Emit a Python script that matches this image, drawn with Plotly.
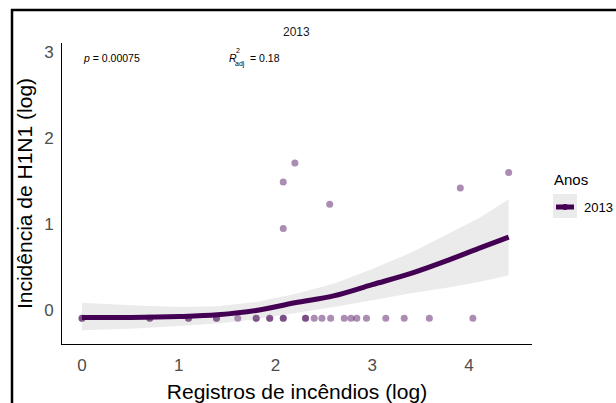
import plotly.graph_objects as go

# ---- data ----
point_x = [0.00, 0.00, 0.70, 0.70, 1.10, 1.10, 1.39, 1.39, 1.61, 1.80, 1.80,
           1.94, 1.94, 2.08, 2.08, 2.31, 2.31, 2.40, 2.48, 2.57, 2.71, 2.78,
           2.84, 2.94, 3.14, 3.33, 3.59, 4.04,
           2.08, 2.20, 2.08, 2.56, 3.91, 4.41]
point_y = [-0.09, -0.09, -0.09, -0.09, -0.09, -0.09, -0.09, -0.09, -0.09, -0.09, -0.09,
           -0.09, -0.09, -0.09, -0.09, -0.09, -0.09, -0.09, -0.09, -0.09, -0.09, -0.09,
           -0.09, -0.09, -0.09, -0.09, -0.09, -0.09,
           1.49, 1.71, 0.95, 1.23, 1.42, 1.60]

fit_x = [0.0, 0.5, 1.0, 1.4, 1.8, 2.2, 2.6, 3.0, 3.4, 3.8, 4.1, 4.41]
fit_y = [-0.08, -0.08, -0.07, -0.05, 0.00, 0.09, 0.17, 0.30, 0.43, 0.59, 0.72, 0.85]
fit_lo = [-0.23, -0.21, -0.18, -0.15, -0.10, -0.03, 0.04, 0.12, 0.20, 0.27, 0.33, 0.41]
fit_hi = [0.09, 0.06, 0.04, 0.05, 0.10, 0.19, 0.31, 0.48, 0.67, 0.90, 1.07, 1.29]

x_ticks = [0, 1, 2, 3, 4]
y_ticks = [0, 1, 2, 3]
year = "2013"
p_text = "<i>p</i> = 0.00075"
r2_value = "= 0.18"

PURPLE = "#440154"

# ---- layout helpers (pixel -> paper) ----
W, H = 616, 403
L, R, T, B = 62, 532, 43, 344


def px(x):
    return (x - L) / (R - L)


def py(y):
    return (B - y) / (B - T)


fig = go.Figure()

fig.add_trace(go.Scatter(
    x=point_x, y=point_y, mode="markers",
    marker=dict(size=7, color="rgba(68,1,84,0.45)", line=dict(width=0)),
    showlegend=False, hoverinfo="skip"))

fig.add_trace(go.Scatter(
    x=fit_x, y=fit_lo, mode="lines", line=dict(width=0, color="rgba(0,0,0,0)"),
    showlegend=False, hoverinfo="skip"))
fig.add_trace(go.Scatter(
    x=fit_x, y=fit_hi, mode="lines", line=dict(width=0, color="rgba(0,0,0,0)"),
    fill="tonexty", fillcolor="rgba(153,153,153,0.2)",
    showlegend=False, hoverinfo="skip"))

fig.add_trace(go.Scatter(
    x=fit_x, y=fit_y, mode="lines", line=dict(width=5, color=PURPLE, shape="spline"),
    showlegend=False, hoverinfo="skip"))

FONT = "Liberation Sans, Arial, sans-serif"

fig.update_layout(
    width=W, height=H,
    margin=dict(l=L, r=W - R, t=T, b=H - B, autoexpand=False),
    paper_bgcolor="white", plot_bgcolor="white",
    font=dict(family=FONT, color="black"),
    showlegend=False,
    xaxis=dict(range=[-0.207, 4.651], tickvals=x_ticks, showgrid=False, zeroline=False,
               showline=True, linecolor="black", linewidth=1, ticks="",
               automargin=False, ticklabelstandoff=6,
               tickfont=dict(size=17, color="#4d4d4d", family=FONT),
               title=dict(text="Registros de incêndios (log)", standoff=10,
                          font=dict(size=21, color="black", family=FONT))),
    yaxis=dict(range=[-0.388, 3.100], tickvals=y_ticks, showgrid=False, zeroline=False,
               showline=True, linecolor="black", linewidth=1, ticks="",
               automargin=False, ticklabelstandoff=4,
               tickfont=dict(size=17, color="#4d4d4d", family=FONT),
               title=dict(text="Incidência de H1N1 (log)", standoff=5,
                          font=dict(size=21, color="black", family=FONT))),
)

ann = []
# facet title
ann.append(dict(text=year, x=px(296), y=py(32), xref="paper", yref="paper",
                showarrow=False, xanchor="center", yanchor="middle",
                font=dict(size=12, color="#1a1a1a", family=FONT)))
# p value
ann.append(dict(text=p_text, x=px(81), y=py(58), xref="paper", yref="paper",
                showarrow=False, xanchor="left", yanchor="middle",
                font=dict(size=10.5, color="black", family=FONT)))
# R^2 adj
ann.append(dict(text="<i>R</i>", x=px(227), y=py(58), xref="paper", yref="paper",
                showarrow=False, xanchor="left", yanchor="middle",
                font=dict(size=10.5, color="black", family=FONT)))
ann.append(dict(text="2", x=px(234), y=py(51), xref="paper", yref="paper",
                showarrow=False, xanchor="left", yanchor="middle",
                font=dict(size=7, color="black", family=FONT)))
ann.append(dict(text="adj", x=px(233), y=py(64), xref="paper", yref="paper",
                showarrow=False, xanchor="left", yanchor="middle",
                font=dict(size=7, color="black", family=FONT)))
ann.append(dict(text=r2_value, x=px(248), y=py(58), xref="paper", yref="paper",
                showarrow=False, xanchor="left", yanchor="middle",
                font=dict(size=10.5, color="black", family=FONT)))
# legend
ann.append(dict(text="Anos", x=px(552), y=py(179), xref="paper", yref="paper",
                showarrow=False, xanchor="left", yanchor="middle",
                font=dict(size=15, color="black", family=FONT)))
ann.append(dict(text=year, x=px(582), y=py(207), xref="paper", yref="paper",
                showarrow=False, xanchor="left", yanchor="middle",
                font=dict(size=13, color="black", family=FONT)))
fig.update_layout(annotations=ann)

shapes = []
shapes.append(dict(type="rect", xref="paper", yref="paper",
                   x0=px(553), x1=px(577), y0=py(218), y1=py(194),
                   fillcolor="#ebebeb", line=dict(width=0), layer="above"))
shapes.append(dict(type="line", xref="paper", yref="paper",
                   x0=px(556), x1=px(574), y0=py(207), y1=py(207),
                   line=dict(color=PURPLE, width=5), layer="above"))
shapes.append(dict(type="circle", xref="paper", yref="paper",
                   x0=px(562), x1=px(568), y0=py(210), y1=py(204),
                   fillcolor=PURPLE, line=dict(width=0), layer="above"))
# outer frame (crop of the source page)
shapes.append(dict(type="line", xref="paper", yref="paper",
                   x0=px(12), x1=px(12), y0=py(9), y1=py(403),
                   line=dict(color="black", width=2.5), layer="above"))
shapes.append(dict(type="line", xref="paper", yref="paper",
                   x0=px(11), x1=px(616), y0=py(10), y1=py(10),
                   line=dict(color="black", width=2.5), layer="above"))
fig.update_layout(shapes=shapes)

fig.write_html("out.html")
